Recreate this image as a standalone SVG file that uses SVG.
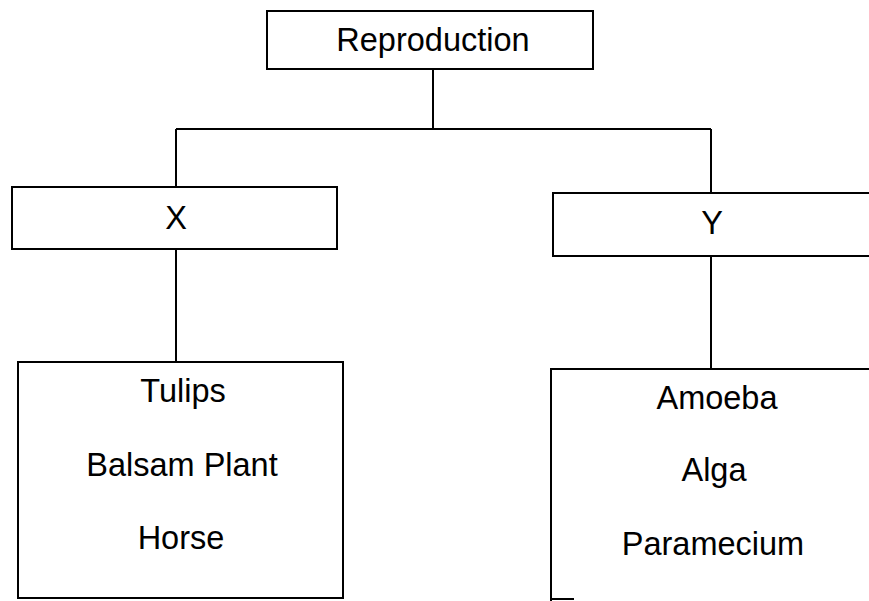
<svg xmlns="http://www.w3.org/2000/svg" width="869" height="601" viewBox="0 0 869 601">
<style>
.box{fill:#fff;stroke:#000;stroke-width:2}
.ln{fill:none;stroke:#000;stroke-width:2}
text{font-family:"Liberation Sans",Arial,sans-serif;font-size:32.5px;fill:#000;text-anchor:middle}
</style>
<rect width="869" height="601" fill="#fff"/>
<g id="connectors">
<path class="ln" d="M433 69 V129"/>
<path class="ln" d="M176 129 H711"/>
<path class="ln" d="M176 129 V187"/>
<path class="ln" d="M711 129 V193"/>
<path class="ln" d="M176 249 V362"/>
<path class="ln" d="M711 256 V369"/>
</g>
<g id="reproduction">
<rect class="box" x="267" y="11" width="326" height="58"/>
<text x="433" y="51">Reproduction</text>
</g>
<g id="x">
<rect class="box" x="12" y="187" width="325" height="62"/>
<text x="176" y="229">X</text>
</g>
<g id="y">
<path class="box" d="M875 193 H553 V256 H875"/>
<text x="712" y="234">Y</text>
</g>
<g id="x-examples">
<rect class="box" x="18" y="362" width="325" height="236"/>
<text x="183" y="402">Tulips</text>
<text x="182" y="476">Balsam Plant</text>
<text x="181" y="549">Horse</text>
</g>
<g id="y-examples">
<path class="box" d="M875 369 H551 V601"/>
<path class="ln" d="M551 599 H574"/>
<text x="717" y="409">Amoeba</text>
<text x="714" y="481">Alga</text>
<text x="713" y="555">Paramecium</text>
</g>
</svg>
